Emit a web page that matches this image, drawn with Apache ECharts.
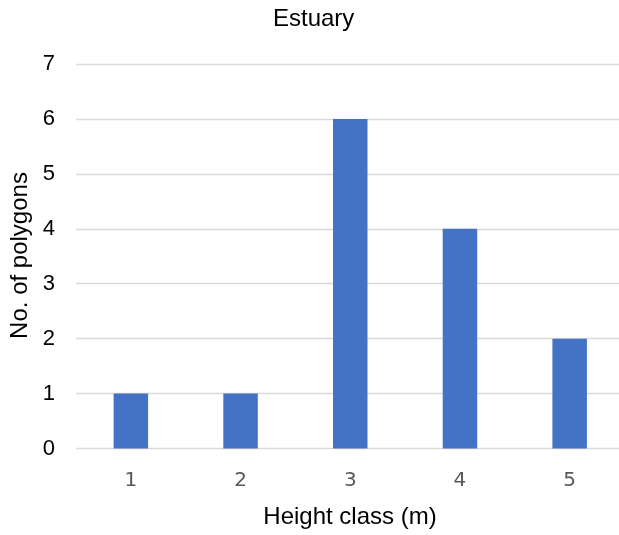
<!DOCTYPE html>
<html>
<head>
<meta charset="utf-8">
<script src="https://cdn.jsdelivr.net/npm/echarts@6/dist/echarts.min.js"></script>
<style>
html,body{margin:0;padding:0;background:#fff;}
#chart{width:619px;height:535px;}
</style>
</head>
<body>
<div id="chart"></div>
<script>
const categories = ['1', '2', '3', '4', '5'];
const counts = [1, 1, 6, 4, 2];
const yTicks = [0, 1, 2, 3, 4, 5, 6, 7];
const chartTitle = 'Estuary';
const xTitle = 'Height class (m)';
const yTitle = 'No. of polygons';

const chart = echarts.init(document.getElementById('chart'), null, {renderer: 'canvas'});
chart.setOption({
  animation: false,
  backgroundColor: '#ffffff',
  title: {
    text: chartTitle,
    left: 273,
    top: 7,
    padding: 0,
    textStyle: {fontFamily: 'Liberation Sans', fontSize: 24, fontWeight: 'normal', color: '#000000'}
  },
  grid: {left: 76, width: 548.5, top: 64, height: 384.5, containLabel: false, outerBoundsMode: 'none'},
  xAxis: {
    type: 'category',
    data: categories,
    axisLine: {show: false},
    axisTick: {show: false},
    axisLabel: {fontFamily: 'DejaVu Sans', fontSize: 20, color: '#595959', margin: 22}
  },
  yAxis: {
    type: 'value',
    min: yTicks[0],
    max: yTicks[yTicks.length - 1],
    interval: 1,
    axisLine: {show: false},
    axisTick: {show: false},
    axisLabel: {fontFamily: 'Liberation Sans', fontSize: 22, color: '#000000', margin: 21},
    splitLine: {lineStyle: {color: '#d9d9d9', width: 1.3}}
  },
  graphic: [
    {
      type: 'text', x: 350, y: 517,
      style: {text: xTitle, textAlign: 'center', textVerticalAlign: 'middle',
              font: '24px "Liberation Sans"', fill: '#000000'}
    },
    {
      type: 'text', x: 20, y: 255.5, rotation: Math.PI / 2,
      style: {text: yTitle, textAlign: 'center', textVerticalAlign: 'middle',
              font: '24px "Liberation Sans"', fill: '#000000'}
    }
  ],
  series: [{
    type: 'bar',
    data: counts,
    barWidth: 34.5,
    itemStyle: {color: '#4472C4'}
  }]
});
</script>
</body>
</html>
